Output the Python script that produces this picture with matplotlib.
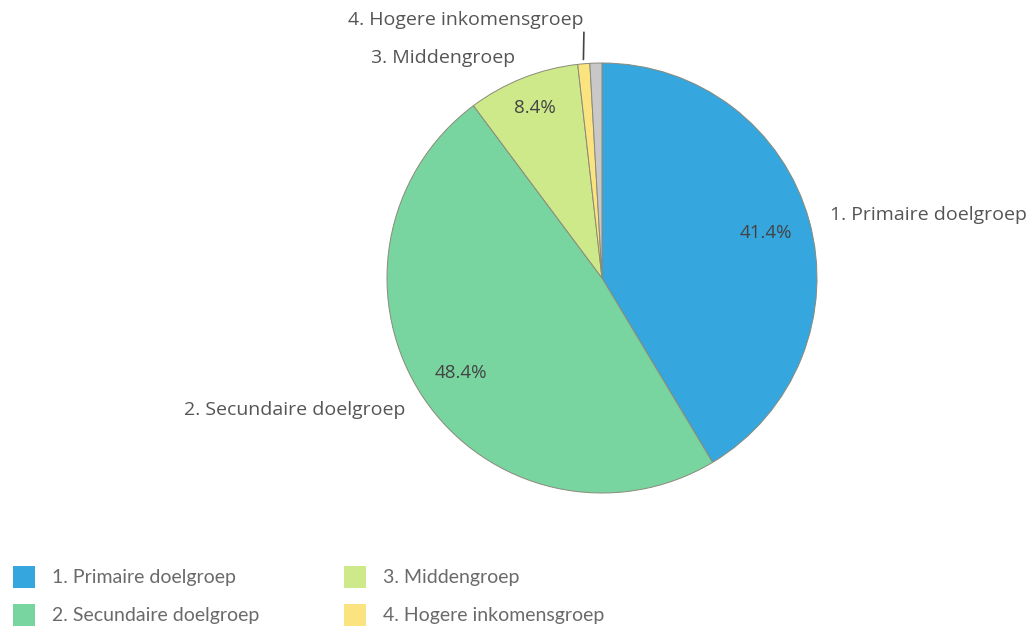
import numpy as np
import matplotlib.pyplot as plt
from matplotlib.patches import Rectangle

# Data
categories = ['1. Primaire doelgroep', '2. Secundaire doelgroep', '3. Middengroep',
              '4. Hogere inkomensgroep', 'Overig']
shares = [41.4, 48.4, 8.4, 0.9, 0.9]
pct_labels = ['41.4%', '48.4%', '8.4%', '', '']
colors = ['#36a6df', '#79d59f', '#cde98a', '#fbe47f', '#c8c8c8']

W, H = 1035, 627
fig = plt.figure(figsize=(W / 100, H / 100), dpi=100)
ax = fig.add_axes([0, 0, 1, 1])

cx, cy, r = 602, H - 278, 215
wedges, _ = ax.pie(shares, colors=colors, startangle=90, counterclock=False,
                   center=(cx, cy), radius=r, frame=True,
                   wedgeprops=dict(edgecolor='#8a8a7a', linewidth=0.7))
ax.set_xlim(0, W)
ax.set_ylim(0, H)
ax.set_aspect('equal')
ax.axis('off')

txt_col = '#555555'
lab_font = ['Open Sans', 'DejaVu Sans']

def mid(w):
    a = np.deg2rad((w.theta1 + w.theta2) / 2)
    return np.cos(a), np.sin(a)

# percentage labels inside
for w, p in zip(wedges, pct_labels):
    if not p:
        continue
    ca, sa = mid(w)
    d = 0.85 if w.theta2 - w.theta1 < 60 else 0.79
    ax.text(cx + d * r * ca, cy + d * r * sa, p, ha='center', va='center',
            fontsize=13.5, color='#444444', family=lab_font)

# outer labels
for i in range(3):
    ca, sa = mid(wedges[i])
    ax.text(cx + 1.1 * r * ca, cy + 1.1 * r * sa, categories[i],
            ha='left' if ca > 0 else 'right', va='center',
            fontsize=14, color=txt_col, family=lab_font)

ca, sa = mid(wedges[3])
ax.annotate(categories[3], xy=(cx + 1.02 * r * ca, cy + 1.02 * r * sa),
            xytext=(cx + 0.99 * r * ca, cy + 1.16 * r * sa),
            ha='right', va='bottom', fontsize=14, color=txt_col, family=lab_font,
            arrowprops=dict(arrowstyle='-', color='#444444', lw=1.2,
                            shrinkA=0, shrinkB=0, relpos=(1.0, 0.0)))

# legend
leg_font = ['Lato', 'DejaVu Sans']
leg_x = [13, 344]
leg_y = [H - 577, H - 615]
for i in range(4):
    x = leg_x[i // 2]
    y = leg_y[i % 2]
    ax.add_patch(Rectangle((x, y - 11), 22, 22, facecolor=colors[i], edgecolor='none'))
    ax.text(x + 39, y, categories[i], ha='left', va='center', fontsize=14,
            color='#6a6a6a', family=leg_font)

fig.savefig('out.png', dpi=100, facecolor='white')
